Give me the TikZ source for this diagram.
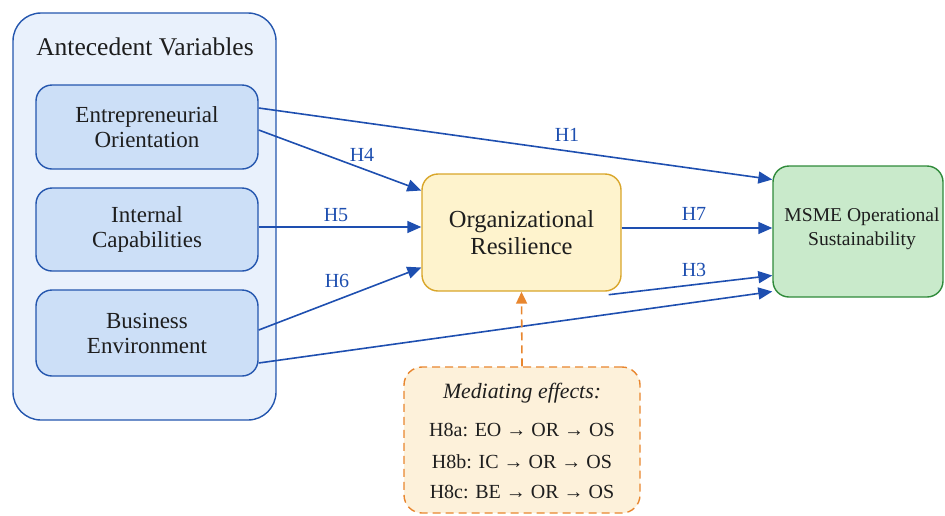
\documentclass[tikz,border=0pt]{standalone}
\usepackage{fontspec}
\setmainfont{Liberation Serif}
\usetikzlibrary{arrows.meta,calc}
\definecolor{outerfill}{HTML}{E9F1FC}
\definecolor{innerfill}{HTML}{CCDFF7}
\definecolor{bluedraw}{HTML}{2456AE}
\definecolor{arrowblue}{HTML}{1E4FB0}
\definecolor{orfill}{HTML}{FEF3CD}
\definecolor{ordraw}{HTML}{D9A62A}
\definecolor{osfill}{HTML}{C9EACB}
\definecolor{osdraw}{HTML}{2F8A3A}
\definecolor{medfill}{HTML}{FDF1DA}
\definecolor{meddraw}{HTML}{E8862E}
\definecolor{txt}{HTML}{1E1E1E}
\tikzset{
  boxfont/.style={font=\fontsize{23}{25}\selectfont},
  varbox/.style={draw=bluedraw, fill=innerfill, line width=1.4pt, rounded corners=16pt,
    minimum width=222pt, inner sep=0pt, align=center, text=txt, boxfont},
  link/.style={draw=arrowblue, line width=1.6pt, -{Triangle[length=14pt,width=12pt]}},
  hlabel/.style={text=arrowblue, font=\fontsize{20}{22}\selectfont},
  medline/.style={text=txt, font=\fontsize{20}{22}\selectfont},
}
\begin{document}
\begin{tikzpicture}[x=1pt,y=-1pt]
\useasboundingbox (0,0) rectangle (945,515);

% container of the antecedent variables
\draw[draw=bluedraw, fill=outerfill, line width=1.4pt, rounded corners=28pt]
  (13,13) rectangle (276,420);
\node[font=\fontsize{25.5}{27}\selectfont, text=txt] (title) at (145,47) {Antecedent Variables};

\node[varbox, minimum height=84pt] (EO) at (147,127) {Entrepreneurial\\Orientation};
\node[varbox, minimum height=83pt] (IC) at (147,229.5) {Internal\\Capabilities};
\node[varbox, minimum height=86pt] (BE) at (147,333) {Business\\Environment};

% mediator and outcome
\node[draw=ordraw, fill=orfill, line width=1.4pt, rounded corners=16pt,
  minimum width=199pt, minimum height=117pt, align=center, text=txt,
  font=\fontsize{24.5}{27}\selectfont]
  (OR) at (521.5,232.5) {Organizational\\Resilience};
\node[draw=osdraw, fill=osfill, line width=1.4pt, rounded corners=16pt,
  minimum width=170pt, minimum height=131pt, inner sep=0pt] (OS) at (858,231.5) {};
\node[align=center, text=txt, font=\fontsize{19.6}{24}\selectfont, inner sep=0pt] (OStext) at (862,229)
  {MSME Operational\\Sustainability};

% mediating effects
\node[draw=meddraw, fill=medfill, line width=1.4pt, dash pattern=on 8pt off 5pt,
  rounded corners=18pt, minimum width=236pt, minimum height=146pt] (MED) at (522,440) {};
\node[text=txt, font=\itshape\fontsize{21.8}{23}\selectfont] (medtitle) at (522,393) {Mediating effects:};
\node[medline] (m1) at (522,430) {H8a: EO → OR → OS};
\node[medline] (m2) at (522,462) {H8b: IC → OR → OS};
\node[medline] (m3) at (522,492) {H8c: BE → OR → OS};

% hypothesised paths
\coordinate (h3s) at ([xshift=-13pt,yshift=-3pt]OR.south east);
\draw[link] ([yshift=19pt]EO.east) -- ([yshift=52pt]OS.west);
\draw[link] ([yshift=-3pt]EO.east) -- ([yshift=42pt]OR.west);
\draw[link] ([yshift=2.5pt]IC.east) -- ([yshift=5.5pt]OR.west);
\draw[link] ([yshift=3pt]BE.east) -- ([yshift=-35pt]OR.west);
\draw[link] ([yshift=4.5pt]OR.east) -- ([yshift=3.5pt]OS.west);
\draw[link] (h3s) -- ([yshift=-44pt]OS.west);
\draw[link] ([yshift=-30pt]BE.east) -- ([yshift=-60pt]OS.west);
\draw[draw=meddraw, line width=1.6pt, dash pattern=on 8pt off 5pt,
  -{Triangle[length=12pt,width=11pt]}] (MED.north) -- (OR.south);

\node[hlabel] (l1) at (567,135) {H1};
\node[hlabel] (l4) at (362,155) {H4};
\node[hlabel] (l5) at (336,215) {H5};
\node[hlabel] (l6) at (337,281) {H6};
\node[hlabel] (l7) at (694,214) {H7};
\node[hlabel] (l3) at (694,270) {H3};
\end{tikzpicture}
\end{document}
